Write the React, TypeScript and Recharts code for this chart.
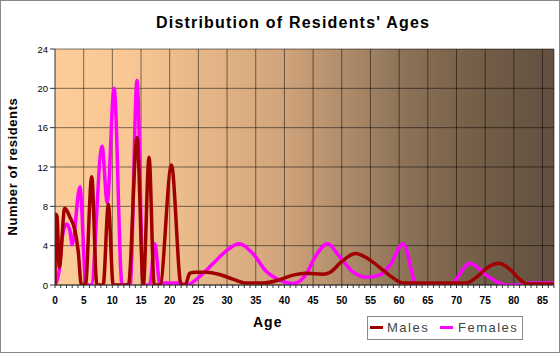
import React from 'react';
import { LineChart, Line, XAxis, YAxis, CartesianGrid } from 'recharts';

// ---- data ----
const maleAges = [0, 0.15, 0.35, 0.75, 1.7, 2.6, 3.5, 4.05, 4.6, 5.3, 6.4, 7.3, 8.4, 9.3, 10.15, 12.8, 14.3, 15.4, 16.4, 17.3, 18.3, 20.3, 22.0, 22.7, 23.5, 24.5, 26.4, 28.5, 31, 33.4, 36.3, 39, 41.5, 43.8, 46.7, 48, 50, 52.4, 54.5, 57, 59, 60.7, 71.7, 73.5, 75.5, 77.4, 79.3, 81, 82.3, 87];
const maleValues = [0, 7.2, 7.0, 1.8, 7.8, 6.9, 5.5, 3.4, 0, 0, 11.0, 0, 0, 8.2, 0, 0, 15.0, 0, 13.0, 0, 0, 12.2, 0, 0, 1.2, 1.3, 1.3, 1.1, 0.6, 0.2, 0.2, 0.5, 1.0, 1.2, 1.1, 1.3, 2.4, 3.2, 2.7, 1.6, 0.7, 0.2, 0.2, 0.8, 1.8, 2.2, 1.6, 0.6, 0.1, 0.1];

const femaleAges = [0, 0.7, 1.3, 2.0, 2.6, 3.0, 4.35, 5.4, 6.3, 8.2, 9.1, 10.3, 11.7, 13.1, 14.3, 15.4, 16.5, 17.4, 18.3, 18.9, 21.8, 22.9, 25.3, 27.6, 29.9, 32.1, 34.5, 36.8, 39.2, 41.5, 43.8, 45.5, 47.5, 49.6, 52, 54.3, 56.6, 58.4, 60.7, 63.1, 68.8, 72.3, 75.2, 77.5, 78.3, 82.2, 82.8, 87];
const femaleValues = [0, 1.4, 5.0, 6.2, 5.5, 4.1, 10.0, 0, 0, 14.1, 8.4, 20.0, 0, 0, 20.8, 0, 0, 4.2, 0, 0.2, 0.2, 0, 0.9, 2.2, 3.5, 4.2, 3.2, 1.4, 0.5, 0.15, 1.1, 3.0, 4.2, 2.9, 1.3, 0.8, 1.0, 2.0, 4.2, 0, 0, 2.2, 1.0, 0.2, 0, 0, 0.2, 0.2];

const xMinorTicks = [0,1,2,3,4,5,6,7,8,9,10,11,12,13,14,15,16,17,18,19,20,21,22,23,24,25,26,27,28,29,30,31,32,33,34,35,36,37,38,39,40,41,42,43,44,45,46,47,48,49,50,51,52,53,54,55,56,57,58,59,60,61,62,63,64,65,66,67,68,69,70,71,72,73,74,75,76,77,78,79,80,81,82,83,84,85,86,87];
const xGridValues = [5, 10, 15, 20, 25, 30, 35, 40, 45, 50, 55, 60, 65, 70, 75, 80, 85, 87];
const yTicks = [0, 4, 8, 12, 16, 20, 24];

const seriesNames = ['Males', 'Females'];
const maleColor = '#A00000';
const femaleColor = '#FF00FF';

const maleData = maleAges.map((age, i) => ({ age, value: maleValues[i] }));
const femaleData = femaleAges.map((age, i) => ({ age, value: femaleValues[i] }));

const FONT = '"Liberation Sans", Arial, sans-serif';
const GRID = 'rgba(0,0,0,0.5)';

const XTick = (props: any) => {
  const { x, y, payload } = props;
  if (payload.value % 5 !== 0) return <g />;
  return (
    <text x={x} y={y + 14} textAnchor="middle" fontSize={10} fontWeight="bold" fontFamily={FONT} fill="#000">
      {payload.value}
    </text>
  );
};

const YTick = (props: any) => {
  const { x, y, payload } = props;
  return (
    <text x={x} y={y + 3.5} textAnchor="end" fontSize={9.5} fontFamily={FONT} fill="#000">
      {payload.value}
    </text>
  );
};

const vGen = (props: any) => {
  const { xAxis, offset } = props;
  return xGridValues.map((v) =>
    xAxis && typeof xAxis.scale === 'function' ? xAxis.scale(v) : offset.left + (v / 87) * offset.width
  );
};

export default function App() {
  return (
    <div style={{ position: 'absolute', left: 0, top: 0, width: 560, height: 353, background: '#fff', fontFamily: FONT }}>
      <LineChart width={560} height={353} margin={{ top: 49, right: 6, bottom: 48, left: 10 }}>
        <defs>
          <linearGradient id="bgGrad" x1="0" y1="0" x2="1" y2="0">
            <stop offset="0" stopColor="#FCCC99" />
            <stop offset="0.15" stopColor="#F8C794" />
            <stop offset="0.29" stopColor="#E6B788" />
            <stop offset="0.45" stopColor="#D2A57C" />
            <stop offset="0.55" stopColor="#B8926F" />
            <stop offset="0.69" stopColor="#8E7459" />
            <stop offset="0.83" stopColor="#766048" />
            <stop offset="1" stopColor="#625040" />
          </linearGradient>
        </defs>
        <CartesianGrid
          stroke={GRID}
          fill="url(#bgGrad)"
          fillOpacity={1}
          verticalCoordinatesGenerator={vGen}
          syncWithTicks={false}
        />
        <XAxis
          type="number"
          dataKey="age"
          domain={[0, 87]}
          ticks={xMinorTicks}
          interval={0}
          tickSize={3}
          tick={<XTick />}
          stroke="#333"
          height={20}
          allowDataOverflow
        />
        <YAxis
          type="number"
          domain={[0, 24]}
          ticks={yTicks}
          interval={0}
          tickSize={5}
          tickMargin={2}
          tick={<YTick />}
          stroke="#333"
          width={45}
          allowDataOverflow
        />
        <Line data={femaleData} dataKey="value" name={seriesNames[1]} type="monotone" stroke={femaleColor} strokeWidth={3.5} dot={false} activeDot={false} isAnimationActive={false} />
        <Line data={maleData} dataKey="value" name={seriesNames[0]} type="monotone" stroke={maleColor} strokeWidth={3.5} dot={false} activeDot={false} isAnimationActive={false} />
      </LineChart>
      <svg width={560} height={353} style={{ position: 'absolute', left: 0, top: 0, pointerEvents: 'none' }}>
        <rect x={0.5} y={0.5} width={559} height={352} fill="none" stroke="#8a8a8a" />
        <text x={156} y={28.3} fontSize={16} fontWeight="bold" letterSpacing={1.2} fontFamily={FONT} fill="#000">
          Distribution of Residents' Ages
        </text>
        <text x={17} y={166.5} transform="rotate(-90, 17, 166.5)" textAnchor="middle" fontSize={13} fontWeight="bold" letterSpacing={0.6} fontFamily={FONT} fill="#000">
          Number of residents
        </text>
        <text x={253} y={327} fontSize={14} fontWeight="bold" letterSpacing={1} fontFamily={FONT} fill="#000">
          Age
        </text>
        <rect x={367.5} y={316.5} width={155} height={23} fill="none" stroke="#8a8a8a" />
        <line x1={370} x2={383} y1={327.5} y2={327.5} stroke={maleColor} strokeWidth={3} />
        <text x={387} y={331.7} fontSize={13} letterSpacing={1.5} fontFamily={FONT} fill="#444">
          {seriesNames[0]}
        </text>
        <line x1={440} x2={453} y1={327.5} y2={327.5} stroke={femaleColor} strokeWidth={3} />
        <text x={458} y={331.7} fontSize={13} letterSpacing={1.5} fontFamily={FONT} fill="#444">
          {seriesNames[1]}
        </text>
      </svg>
    </div>
  );
}
